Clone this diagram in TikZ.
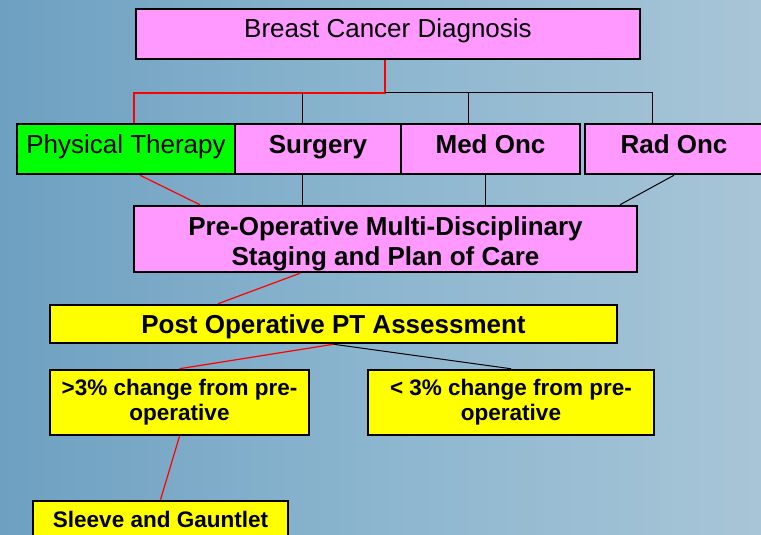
\documentclass[tikz,border=0pt]{standalone}
\usepackage{fontspec}
\setmainfont{Liberation Sans}
\definecolor{cardpink}{RGB}{255,153,255}
\definecolor{cardgreen}{RGB}{0,255,0}
\definecolor{cardyellow}{RGB}{255,255,0}
\definecolor{bgleft}{RGB}{110,160,193}
\definecolor{bgmid}{RGB}{140,182,207}
\definecolor{bgright}{RGB}{168,197,215}
\tikzset{
  card/.style={draw=black, line width=2.5pt, inner sep=0pt, align=center},
  bigtext/.style={font=\fontsize{26}{30}\selectfont, text height=19pt, text depth=10pt},
  boldtext/.style={font=\bfseries\fontsize{26}{30}\selectfont, text height=19pt, text depth=10pt},
  smalltext/.style={font=\bfseries\fontsize{22.5}{25}\selectfont},
  redline/.style={red, line width=1.2pt},
  blkline/.style={black, line width=1pt}
}
\begin{document}
\begin{tikzpicture}[x=1pt, y=-1pt]
    \useasboundingbox (0,0) rectangle (761,535);
    \shade[left color=bgleft, right color=bgright, middle color=bgmid] (0,0) rectangle (761,535);

    % top row
    \node[card, fill=cardpink, bigtext, text depth=12pt, minimum width=504, minimum height=50] (diag) at (388,34) {Breast Cancer Diagnosis};
    \node[card, fill=cardgreen, bigtext, minimum width=218, minimum height=50] (pt) at (126,149) {Physical Therapy};
    \node[card, fill=cardpink, boldtext, minimum width=166, minimum height=50] (surg) at (318,149) {Surgery};
    \node[card, fill=cardpink, boldtext, minimum width=179, minimum height=50] (med) at (490.5,149) {Med Onc};
    \node[card, fill=cardpink, boldtext, minimum width=178, minimum height=50] (rad) at (674,149) {Rad Onc};

    % staging and post op
    \node[card, fill=cardpink, boldtext, text height=52pt, text depth=0pt, minimum width=503, minimum height=66] (preop) at (385.5,239) {Pre-Operative Multi-Disciplinary\\Staging and Plan of Care};
    \node[card, fill=cardyellow, boldtext, text depth=0pt, minimum width=567, minimum height=38] (post) at (333.5,324) {Post Operative PT Assessment};
    \node[card, fill=cardyellow, smalltext, text height=35pt, text depth=0pt, minimum width=259, minimum height=65] (gt) at (179.5,402.5) {>3\% change from pre-\\operative};
    \node[card, fill=cardyellow, smalltext, text height=35pt, text depth=0pt, minimum width=286, minimum height=65] (lt) at (511,402.5) {< 3\% change from pre-\\operative};
    \node[card, fill=cardyellow, smalltext, text height=16.5pt, text depth=2.5pt, minimum width=255, minimum height=38] (sleeve) at (160.5,520) {Sleeve and Gauntlet};

    % connectors
    \coordinate (bus) at (385,93);
    \draw[redline] (bus |- diag.south) -- (bus) -| ([xshift=8pt]pt.north);
    \draw[blkline] (bus) -| ([xshift=-22pt]rad.north);
    \draw[blkline] ([xshift=-16pt]surg.north) -- ([xshift=-16pt]surg.north |- bus);
    \draw[blkline] ([xshift=-22.5pt]med.north) -- ([xshift=-22.5pt]med.north |- bus);

    \draw[redline] ([xshift=14pt]pt.south) -- ([xshift=-185.5pt]preop.north);
    \draw[blkline] ([xshift=-16pt]surg.south) -- ([xshift=-16pt]surg.south |- preop.north);
    \draw[blkline] ([xshift=-5.5pt]med.south) -- ([xshift=-5.5pt]med.south |- preop.north);
    \draw[blkline] (rad.south) -- ([xshift=234.5pt]preop.north);

    \draw[redline] ([xshift=-85.5pt]preop.south) -- ([xshift=-115.5pt]post.north);
    \draw[redline] (post.south) -- (gt.north);
    \draw[blkline] (post.south) -- (lt.north);
    \draw[redline] (gt.south) -- (sleeve.north);
\end{tikzpicture}
\end{document}
